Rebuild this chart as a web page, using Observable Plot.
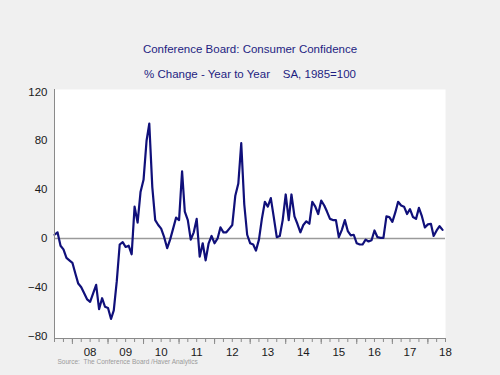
<!DOCTYPE html>
<html>
<head>
<meta charset="utf-8">
<script src="https://cdn.jsdelivr.net/npm/d3@7"></script>
<script src="https://cdn.jsdelivr.net/npm/@observablehq/plot@0.6"></script>
<style>
  html, body { margin: 0; padding: 0; background: #f0f0f0; }
  #chart svg { display: block; background: #f0f0f0; }
</style>
</head>
<body>
<div id="chart"></div>
<script>
// ---- Data ----
const title = "Conference Board: Consumer Confidence";
const subtitle = "% Change - Year to Year\u00a0\u00a0\u00a0\u00a0SA, 1985=100";
const source = "Source:\u00a0\u00a0The Conference Board /Haver Analytics";

// Monthly observations, July 2007 .. June 2018
const firstMonth = "2007-07-01";
const values = [
  3, 5, -6, -9, -16, -18,                 // 2007 Jul-Dec
  -20, -29, -37, -40, -45, -50, -52, -45, -38, -58, -49, -56,   // 2008
  -57, -66, -59, -35, -5, -3, -7, -6, -13, 26, 13, 38,          // 2009
  48, 80, 94, 42, 15, 11, 8, 1, -8, -1, 8, 17,                  // 2010
  15, 55, 22, 15, -1, 5, 16, -15, -4, -18, -4, 2,               // 2011
  -4, 0, 9, 5, 5, 8, 11, 35, 45, 78, 28, 3,                     // 2012
  -4, -5, -10, -1, 16, 30, 26, 33, 17, 1, 2, 15,                // 2013
  36, 15, 36, 18, 12, 5, 11, 14, 12, 30, 26, 20,                // 2014
  31, 27, 22, 16, 15, 15, 1, 7, 15, 6, 2.5, 3,                  // 2015
  -4, -5, -5, -1, -2.5, -1.5, 6.5, 1, 0.5, 0.5, 18, 17.5,       // 2016
  13.5, 21.5, 30, 27, 26, 20, 24, 17.5, 16, 25, 18, 9,          // 2017
  11.5, 12, 2, 6.5, 10, 7                                       // 2018 Jan-Jun
];
const yTicks = [-80, -40, 0, 40, 80, 120];
const yearLabels = ["08","09","10","11","12","13","14","15","16","17","18"];

// ---- Build table ----
const start = new Date(firstMonth + "T00:00:00Z");
const data = values.map((v, i) => ({date: d3.utcMonth.offset(start, i), value: v}));
const xEnd = d3.utcMonth.offset(start, values.length);
const quarterTicks = d3.utcMonth.every(3).range(start, d3.utcMonth.offset(xEnd, 1));
const yearTicks = d3.utcYear.range(start, d3.utcMonth.offset(xEnd, 1));
const labelDates = yearLabels.map(s => new Date(Date.UTC(2000 + (+s), 6, 1)));
const labelMap = new Map(labelDates.map((d, i) => [+d, yearLabels[i]]));

const navy = "#10107a";
const axisGray = "#8a8a8a";

const chart = Plot.plot({
  width: 500,
  height: 375,
  marginLeft: 54,
  marginRight: 55,
  marginTop: 89,
  marginBottom: 37,
  style: {fontFamily: "'Liberation Sans', Arial, sans-serif", background: "#f0f0f0", color: "#222"},
  x: {type: "utc", domain: [start, xEnd]},
  y: {domain: [-82, 122]},
  marks: [
    Plot.frame({fill: "white", stroke: "none"}),
    Plot.ruleY([0], {stroke: "#9a9a9a", strokeWidth: 1.5}),
    Plot.lineY(data, {x: "date", y: "value", stroke: navy, strokeWidth: 2.2}),
    Plot.ruleX([start], {stroke: axisGray, strokeWidth: 1}),
    Plot.ruleY([-82], {stroke: axisGray, strokeWidth: 1}),
    Plot.axisY({ticks: yTicks, tickSize: 0, tickPadding: 7, fontSize: 11.5, label: null, fill: "#1a1a1a"}),
    Plot.axisX({ticks: quarterTicks, tickSize: 4, tickFormat: () => "", label: null, stroke: axisGray}),
    Plot.axisX({ticks: yearTicks, tickSize: 6, tickFormat: () => "", label: null, stroke: axisGray}),
    Plot.axisX({ticks: labelDates, tickSize: 0, tickPadding: 9, tickFormat: d => labelMap.get(+d), fontSize: 11.5, label: null, fill: "#1a1a1a"}),
    Plot.text([title], {frameAnchor: "top", dy: -45, fontSize: 11.5, fill: "#1e1e82", text: d => d}),
    Plot.text([subtitle], {frameAnchor: "top", dy: -20, fontSize: 11.5, fill: "#1e1e82", text: d => d}),
    Plot.text([source], {frameAnchor: "bottom-left", dx: 3, dy: 25.5, textAnchor: "start", fontSize: 6.5, fill: "#9a9a9a", text: d => d})
  ]
});
document.getElementById("chart").appendChild(chart);
</script>
</body>
</html>
